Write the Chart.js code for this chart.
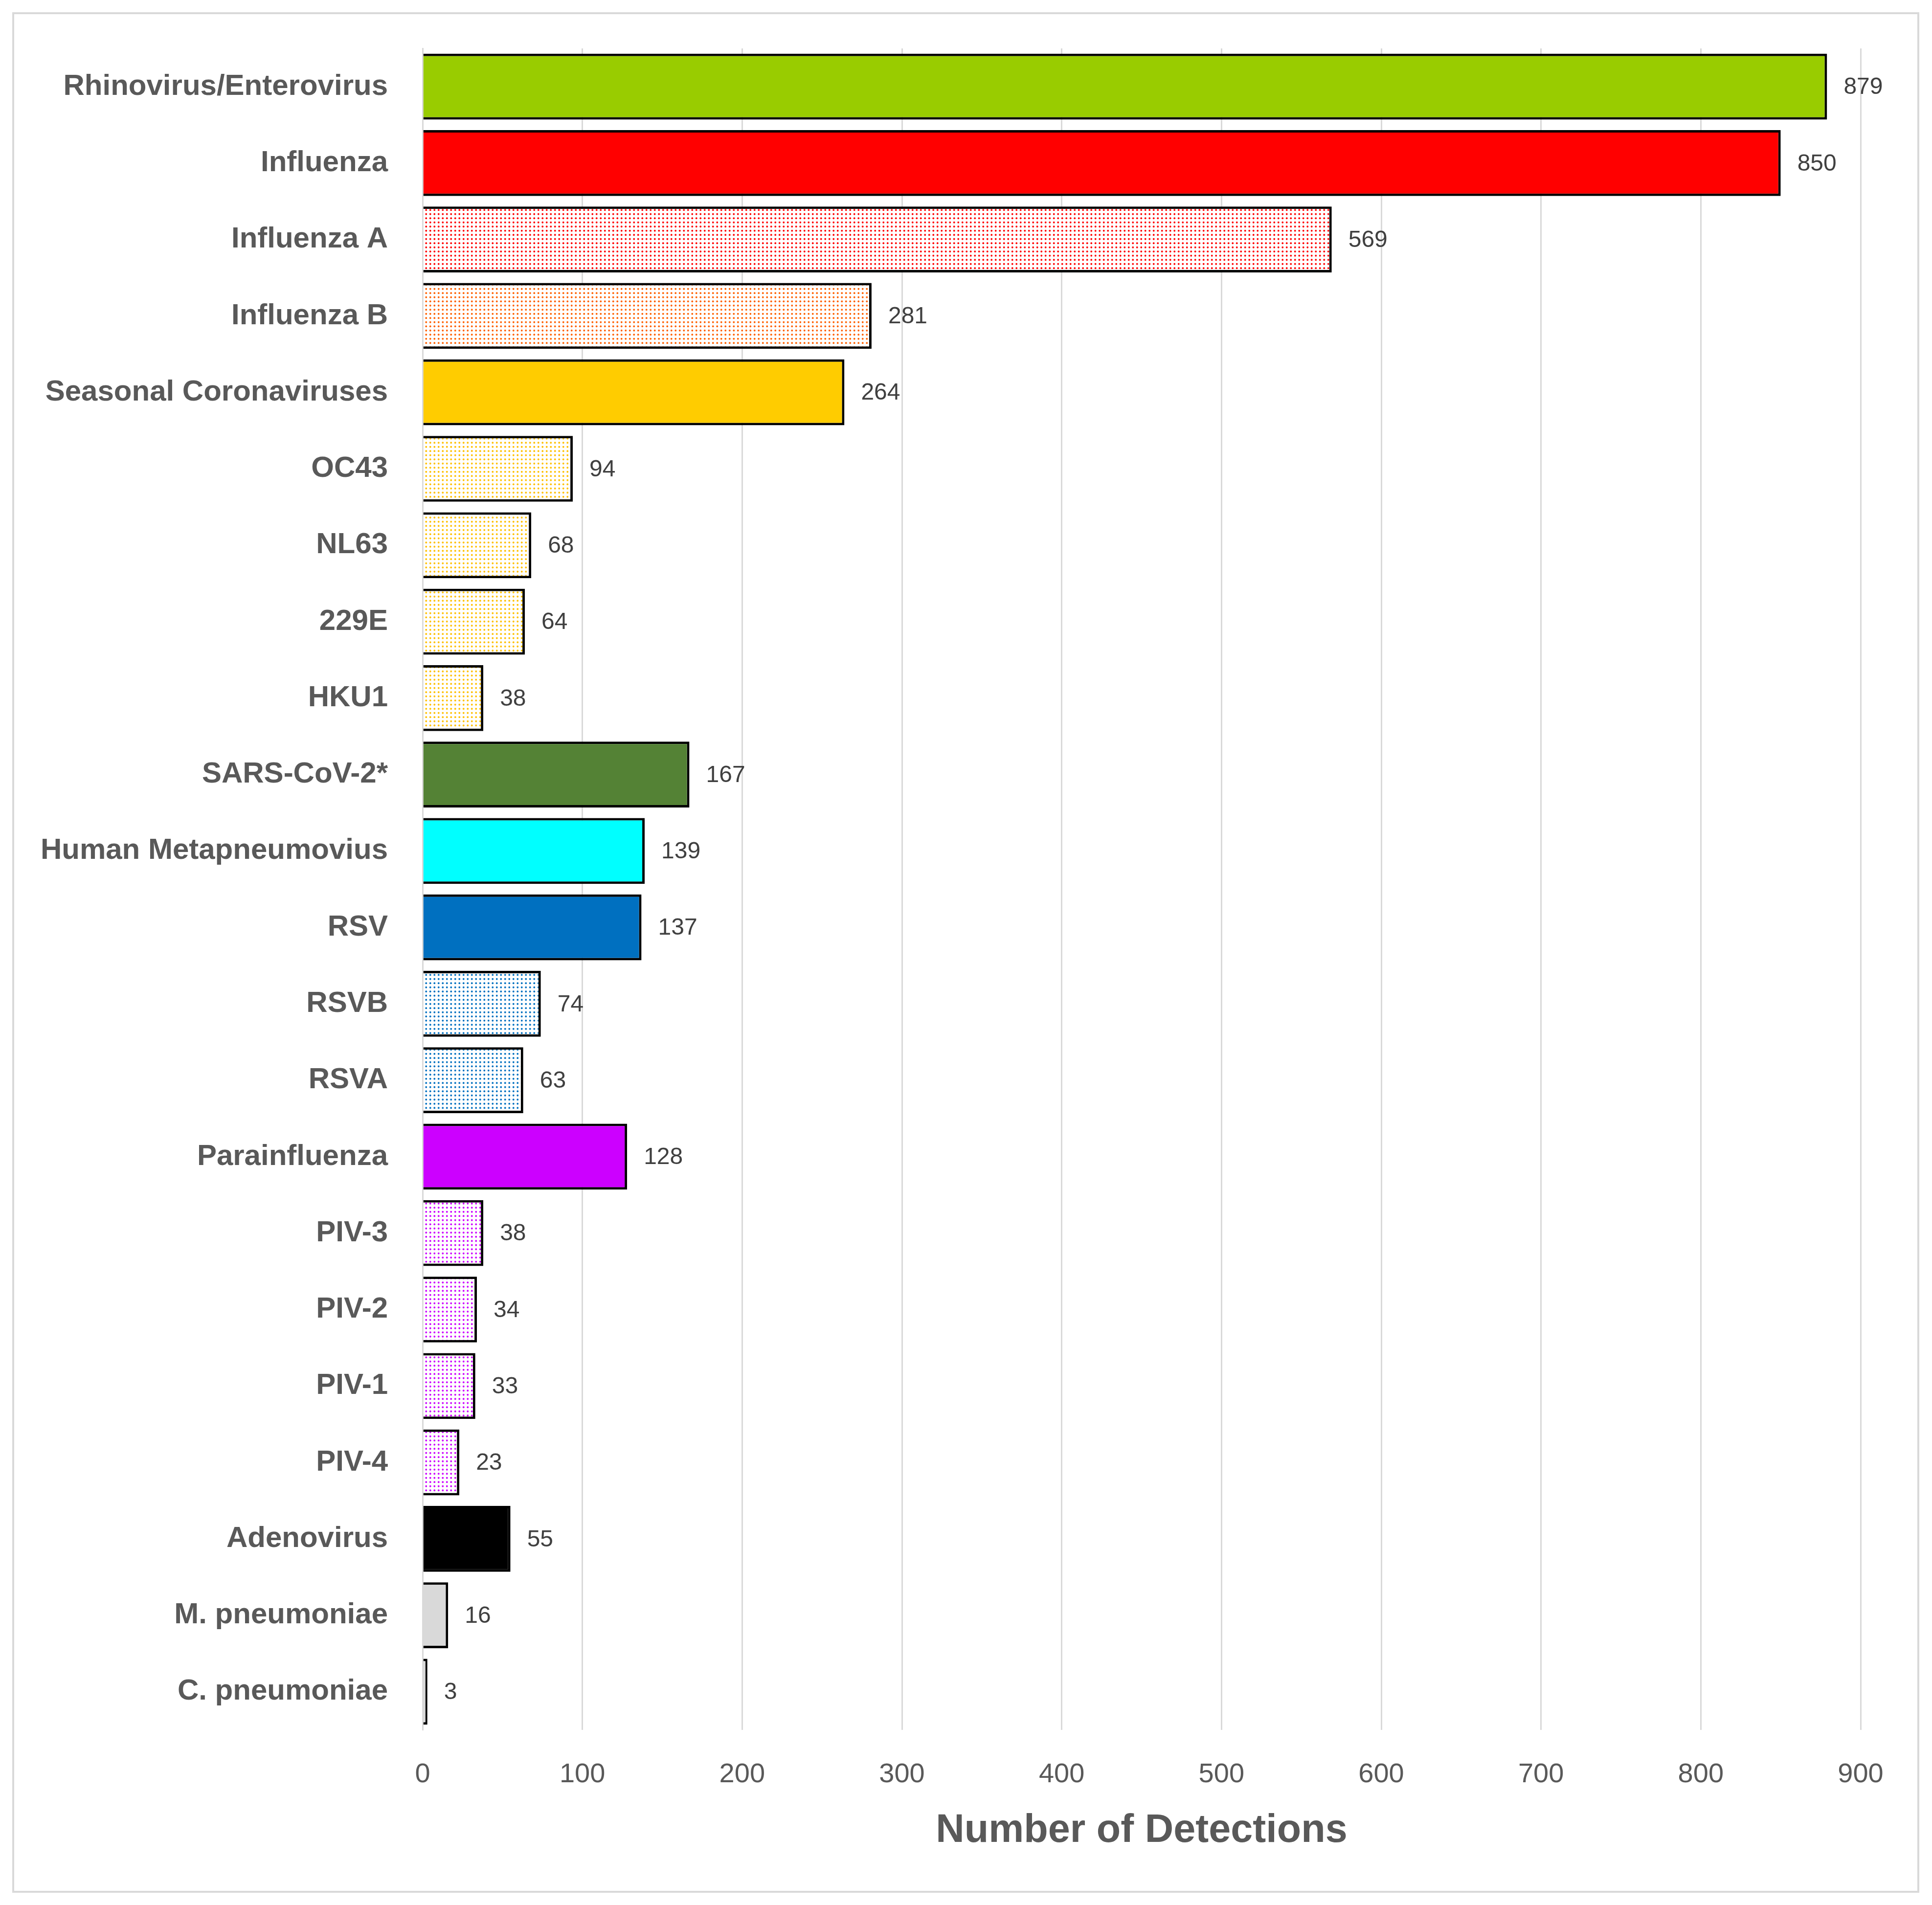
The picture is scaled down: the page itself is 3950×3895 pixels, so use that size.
<!DOCTYPE html>
<html>
<head>
<meta charset="utf-8">
<title>Number of Detections</title>
<script src="https://cdn.jsdelivr.net/npm/chart.js@4/dist/chart.umd.min.js"></script>
<style>
  html, body { margin: 0; padding: 0; background: #ffffff; }
  #contenedor { position: relative; width: 3950px; height: 3895px; }
</style>
</head>
<body>
<div id="contenedor"><canvas id="deteccion"></canvas></div>

<script>
// datos del grafico
var categorias = [
  "Rhinovirus/Enterovirus", "Influenza", "Influenza A", "Influenza B",
  "Seasonal Coronaviruses", "OC43", "NL63", "229E", "HKU1", "SARS-CoV-2*",
  "Human Metapneumovius", "RSV", "RSVB", "RSVA", "Parainfluenza",
  "PIV-3", "PIV-2", "PIV-1", "PIV-4", "Adenovirus", "M. pneumoniae", "C. pneumoniae"
];
var detecciones = [879, 850, 569, 281, 264, 94, 68, 64, 38, 167, 139, 137, 74, 63, 128, 38, 34, 33, 23, 55, 16, 3];
var marcasX = [0, 100, 200, 300, 400, 500, 600, 700, 800, 900];

// relleno de cada barra: color solido o "puntos:" + color
var rellenos = [
  "#99CC00", "#FF0000", "puntos:#FF0000", "puntos:#FF6000",
  "#FFCC00", "puntos:#FFC000", "puntos:#FFC000", "puntos:#FFC000", "puntos:#FFC000", "#548235",
  "#00FFFF", "#0070C0", "puntos:#0070C0", "puntos:#0070C0", "#CC00FF",
  "puntos:#CC00FF", "puntos:#CC00FF", "puntos:#CC00FF", "puntos:#CC00FF", "#000000", "#D9D9D9", "#D9D9D9"
];

var fuente = "'Liberation Sans', Arial, sans-serif";

// trama de puntos, paso de 8.5 px
function patronPuntos(color) {
  var c = document.createElement('canvas');
  c.width = 17; c.height = 17;
  var g = c.getContext('2d');
  g.fillStyle = '#FFFFFF';
  g.fillRect(0, 0, 17, 17);
  g.fillStyle = color;
  [4.25, 12.75].forEach(function (px) {
    [4.25, 12.75].forEach(function (py) {
      g.beginPath();
      g.arc(px, py, 1.9, 0, Math.PI * 2);
      g.fill();
    });
  });
  return g.createPattern(c, 'repeat');
}

var fondos = rellenos.map(function (r) {
  if (r.indexOf('puntos:') === 0) return patronPuntos(r.substring(7));
  return r;
});

// marco gris y fondo blanco
var marco = {
  id: 'marco',
  beforeDraw: function (chart) {
    var ctx = chart.ctx;
    ctx.save();
    ctx.fillStyle = '#FFFFFF';
    ctx.fillRect(0, 0, chart.width, chart.height);
    ctx.restore();
  },
  afterDraw: function (chart) {
    var ctx = chart.ctx;
    ctx.save();
    ctx.strokeStyle = '#D9D9D9';
    ctx.lineWidth = 4;
    ctx.strokeRect(27, 27, 3895, 3841);
    ctx.restore();
  }
};

// valores al final de cada barra
var etiquetasValor = {
  id: 'etiquetasValor',
  afterDatasetsDraw: function (chart) {
    var ctx = chart.ctx;
    var meta = chart.getDatasetMeta(0);
    var valores = chart.data.datasets[0].data;
    ctx.save();
    ctx.font = '48px ' + fuente;
    ctx.fillStyle = '#404040';
    ctx.textAlign = 'left';
    ctx.textBaseline = 'middle';
    meta.data.forEach(function (barra, i) {
      ctx.fillText(String(valores[i]), barra.x + 34, barra.y + 2);
    });
    ctx.restore();
  }
};

Chart.defaults.font.family = fuente;

var lienzo = document.getElementById('deteccion').getContext('2d');
window.barras = new Chart(lienzo, {
  type: 'bar',
  data: {
    labels: categorias,
    datasets: [{
      data: detecciones,
      backgroundColor: fondos,
      borderColor: '#000000',
      borderWidth: 5,
      barPercentage: 0.862,
      categoryPercentage: 1
    }]
  },
  options: {
    indexAxis: 'y',
    responsive: true,
    maintainAspectRatio: false,
    devicePixelRatio: 1,
    animation: false,
    layout: { padding: { top: 91, right: 146, bottom: 0, left: 0 } },
    plugins: {
      legend: { display: false },
      tooltip: { enabled: false }
    },
    scales: {
      x: {
        min: 0,
        max: 900,
        afterBuildTicks: function (s) {
          s.ticks = marcasX.map(function (v) { return { value: v }; });
        },
        afterFit: function (s) { s.height = 358; },
        grid: { color: '#D9D9D9', lineWidth: 3, drawTicks: false },
        border: { display: false },
        ticks: { color: '#595959', font: { size: 56 }, padding: 58, maxRotation: 0 },
        title: {
          display: true,
          text: 'Number of Detections',
          color: '#595959',
          font: { size: 81, weight: 'bold' },
          padding: { top: 0, bottom: 103 }
        }
      },
      y: {
        afterFit: function (s) { s.width = 864; },
        grid: { display: false },
        border: { display: true, color: '#D9D9D9', width: 3 },
        ticks: { color: '#595959', font: { size: 60, weight: 'bold' }, padding: 63, autoSkip: false }
      }
    }
  },
  plugins: [marco, etiquetasValor]
});
</script>
</body>
</html>
